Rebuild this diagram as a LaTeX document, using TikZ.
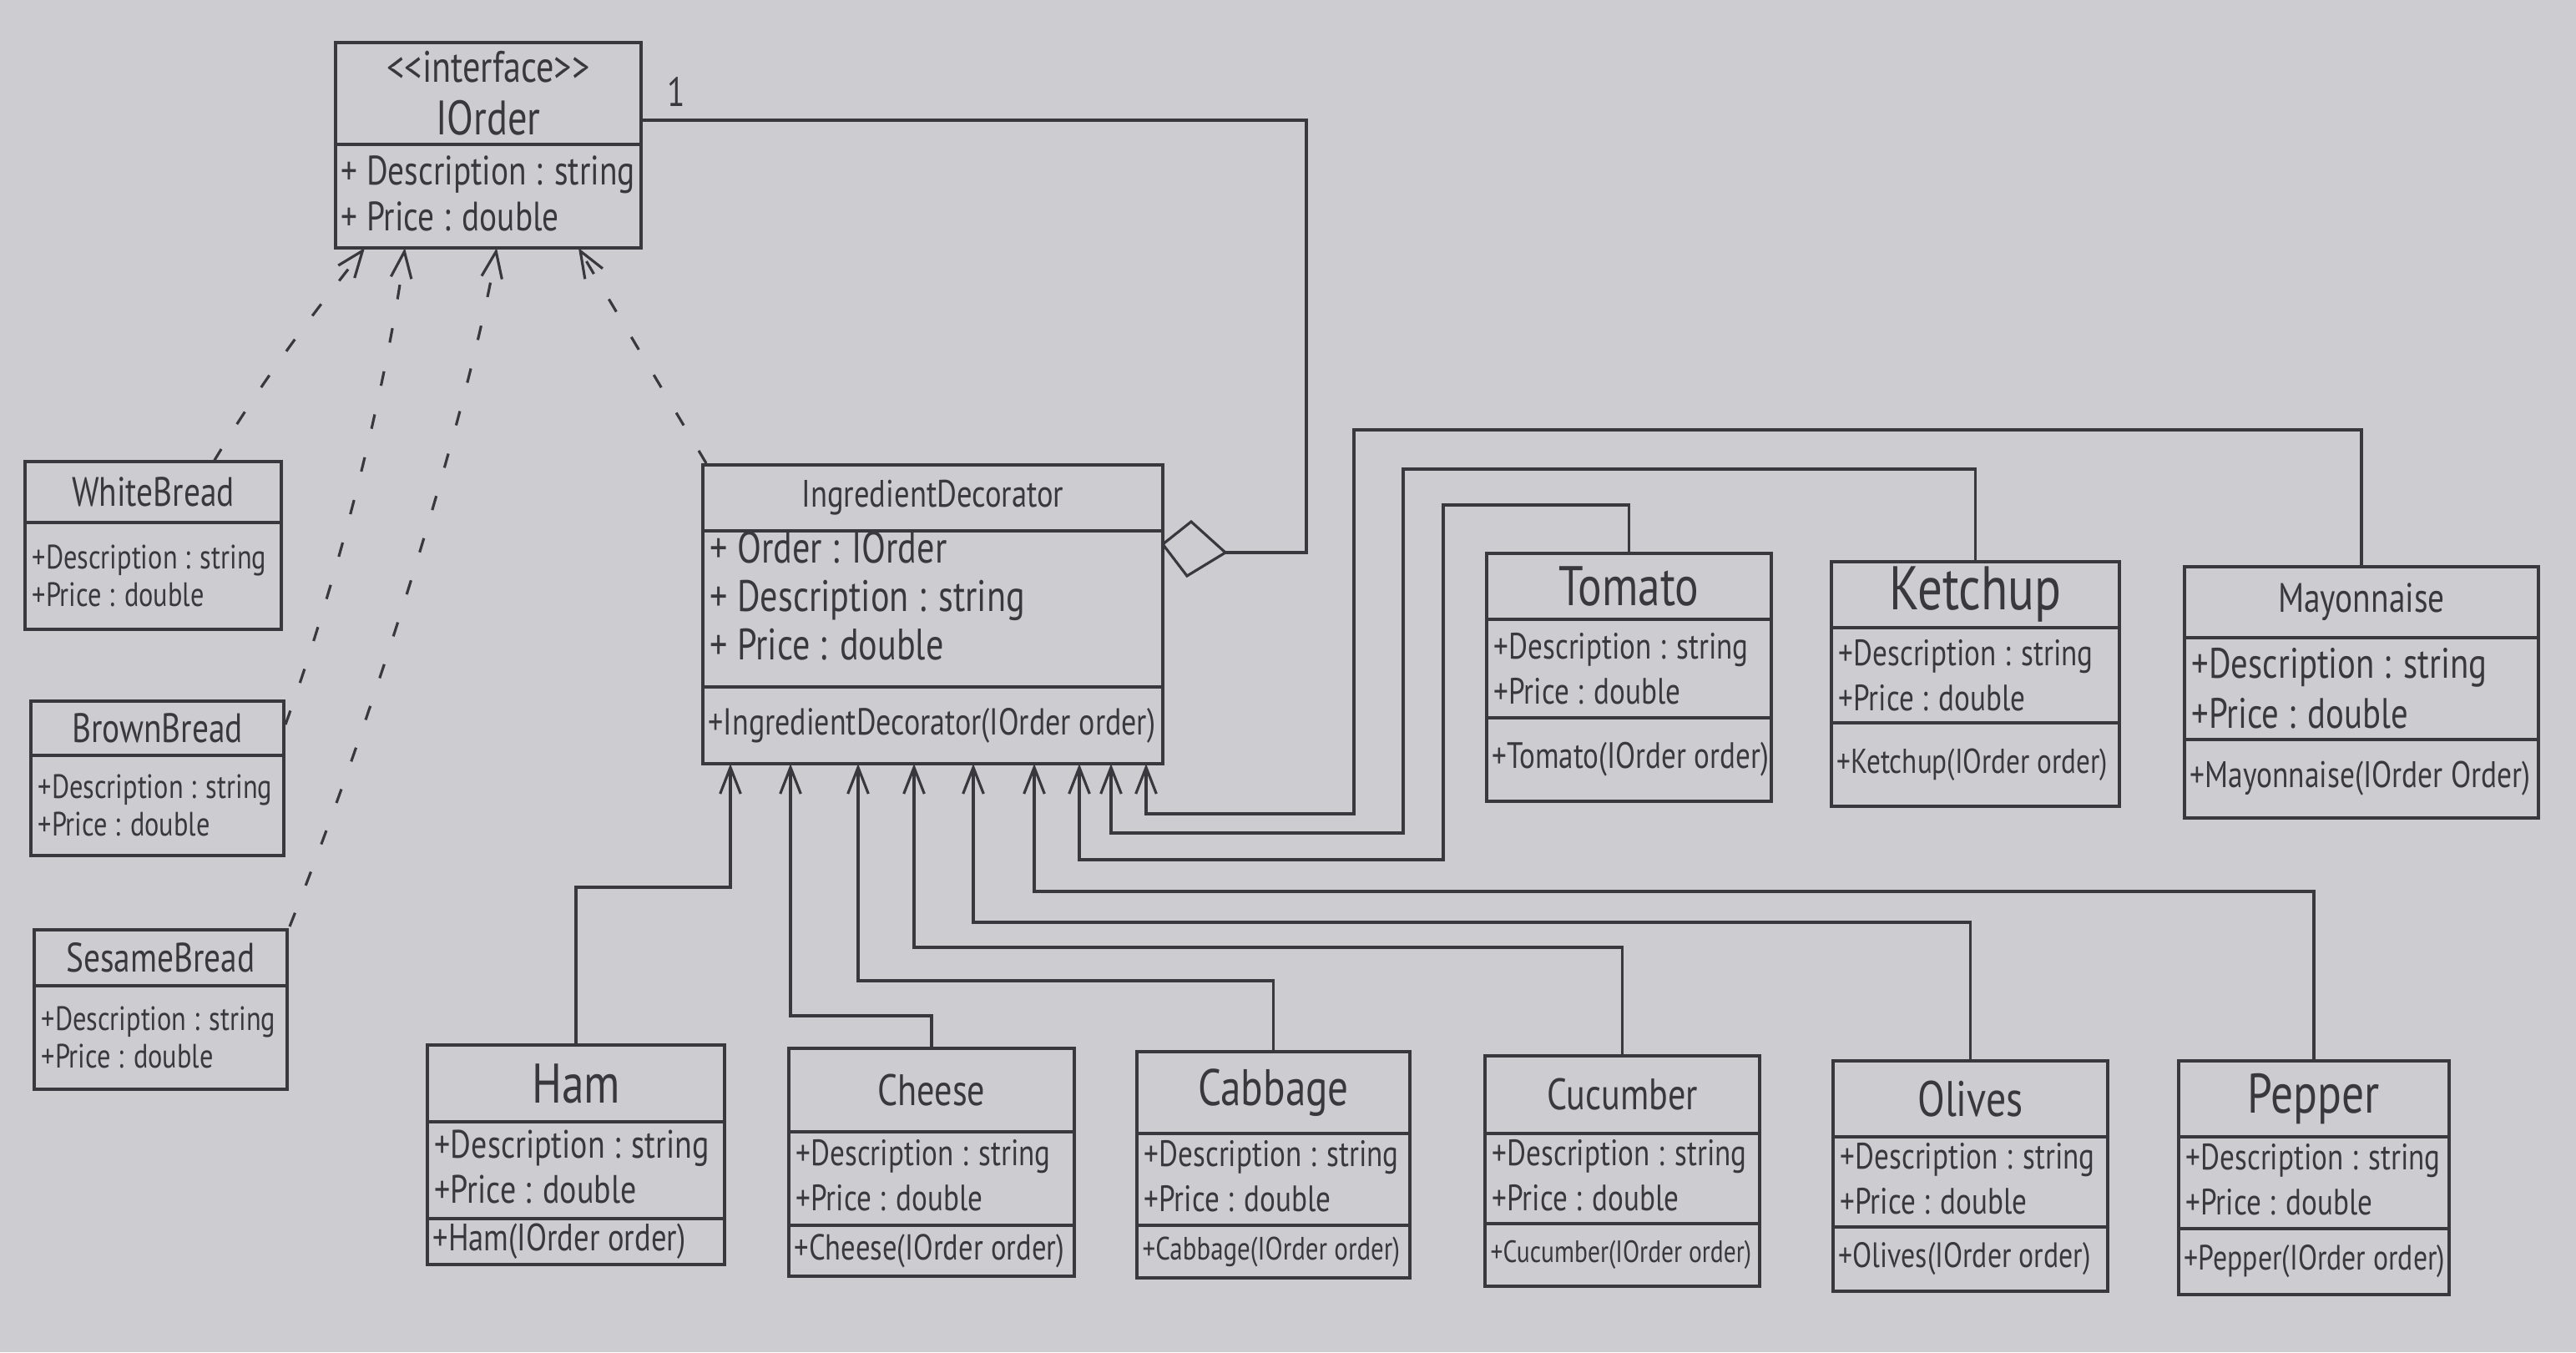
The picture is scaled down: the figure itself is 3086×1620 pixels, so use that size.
\documentclass[tikz,border=0pt]{standalone}
\usepackage{fontspec}
\setmainfont[FakeStretch=0.8]{PT Sans}
\usetikzlibrary{arrows.meta,calc}
\definecolor{paper}{RGB}{204,204,209}
\definecolor{pencil}{RGB}{56,56,62}
\newcommand\fs[1]{\fontsize{#1}{#1}\selectfont}
\newcommand\umlcls[8]{%
  \pgfmathsetmacro\bw{(#4-#2)*0.01}%
  \pgfmathsetmacro\bh{(#5-#3)*0.01}%
  \node[clsbox,minimum width=\bw cm,minimum height=\bh cm] (#1) at (#2,#3) {};%
  \draw[ln] (#2,#6) -- (#4,#6);%
  \node[ttl] (#1-t) at ({(#2+#4)/2},{(#3+#6)/2}) {#8};%
  \ifx\relax#7\relax\else\draw[ln] (#2,#7) -- (#4,#7);\fi
}
% optional style, name, x1, d1, d2, y2, attrs, method
\newcommand\umlbody[8][]{%
  \node[attr,#1] (#2-a) at ({#3+8},{(#4+#5)/2}) {#7};%
  \ifx\relax#8\relax\else\node[meth] (#2-m) at ({#3+6},{(#5+#6)/2}) {#8};\fi
}
\begin{document}
\begin{tikzpicture}[x=0.01cm,y=-0.01cm,
  ln/.style={draw=pencil,line width=0.9pt},
  clsbox/.style={draw=pencil,line width=0.9pt,anchor=north west,inner sep=0pt,outer sep=0pt},
  ttl/.style={text=pencil,inner sep=0pt,align=center,font=\fontsize{16}{18}\selectfont},
  attr/.style={text=pencil,inner sep=0pt,anchor=west,align=left,font=\fontsize{12.5}{15.5}\selectfont},
  meth/.style={text=pencil,inner sep=0pt,anchor=west,font=\fontsize{12}{14}\selectfont},
  low/.style={yshift=0.04cm},
  gen/.style={draw=pencil,line width=0.9pt,-{Straight Barb[length=9pt,width=7pt]}},
  real/.style={gen,dash pattern=on 5pt off 10pt},
]
\fill[paper] (0,0) rectangle (3086,1620);
\useasboundingbox (0,0) rectangle (3086,1620);

% ---------- IOrder ----------
\umlcls{iorder}{402}{51}{768}{297}{173}{}{{\fontsize{15}{22}\selectfont{<}{<}interface{>}{>}}\\{\fontsize{16.5}{18}\selectfont IOrder}}
\node[attr,font=\fontsize{14}{15.5}\selectfont] (iorder-a) at (408,232) {+ Description : string\\+ Price : double};
\node[text=pencil,font=\fontsize{14}{15}\selectfont] (one) at (810,110) {1};

% ---------- Breads ----------
\umlcls{wb}{30}{553}{337}{754}{626}{}{\fs{14}WhiteBread}
\umlbody[font=\fontsize{11.5}{13}\selectfont]{wb}{30}{626}{754}{754}{+Description : string\\+Price : double}{}
\umlcls{bb}{37}{840}{340}{1025}{905}{}{\fs{14}BrownBread}
\umlbody[font=\fontsize{11.5}{13}\selectfont]{bb}{37}{905}{1025}{1025}{+Description : string\\+Price : double}{}
\umlcls{sb}{41}{1114}{344}{1305}{1181}{}{\fs{14}SesameBread}
\umlbody[font=\fontsize{11.5}{13}\selectfont]{sb}{41}{1181}{1305}{1305}{+Description : string\\+Price : double}{}

% ---------- IngredientDecorator ----------
\umlcls{dec}{842}{557}{1393}{915}{636}{823}{\fs{13}IngredientDecorator}
\node[attr,font=\fontsize{15}{16.5}\selectfont] (dec-a) at (850,714) {+ Order : IOrder\\+ Description : string\\+ Price : double};
\node[meth,font=\fontsize{12.8}{14}\selectfont] (dec-m) at (848,869) {+IngredientDecorator(IOrder order)};

% ---------- Top right ingredients ----------
\umlcls{tom}{1781}{663}{2122}{960}{742}{860}{\fs{19}Tomato}
\umlbody{tom}{1781}{742}{860}{960}{+Description : string\\+Price : double}{\fs{12.5}+Tomato(IOrder order)}
\umlcls{ket}{2194}{673}{2539}{966}{752}{866}{\fs{21}Ketchup}
\umlbody{ket}{2194}{752}{866}{966}{+Description : string\\+Price : double}{\fs{11.8}+Ketchup(IOrder order)}
\umlcls{may}{2617}{679}{3041}{980}{764}{886}{\fs{14}Mayonnaise}
\umlbody[font=\fontsize{14.5}{17}\selectfont]{may}{2617}{764}{886}{980}{+Description : string\\+Price : double}{\fs{12.6}+Mayonnaise(IOrder Order)}

% ---------- Bottom ingredients ----------
\umlcls{ham}{512}{1252}{868}{1515}{1344}{1460}{\fs{19}Ham}
\umlbody[low,font=\fontsize{13.5}{15.5}\selectfont]{ham}{512}{1344}{1460}{1515}{+Description : string\\+Price : double}{\fs{13}+Ham(IOrder order)}
\umlcls{che}{945}{1256}{1287}{1529}{1356}{1468}{\fs{15}Cheese}
\umlbody[low]{che}{945}{1356}{1468}{1529}{+Description : string\\+Price : double}{\fs{12.3}+Cheese(IOrder order)}
\umlcls{cab}{1362}{1260}{1689}{1531}{1358}{1468}{\fs{17.5}Cabbage}
\umlbody[low]{cab}{1362}{1358}{1468}{1531}{+Description : string\\+Price : double}{\fs{11}+Cabbage(IOrder order)}
\umlcls{cuc}{1779}{1265}{2108}{1541}{1358}{1466}{\fs{15}Cucumber}
\umlbody[low]{cuc}{1779}{1358}{1466}{1541}{+Description : string\\+Price : double}{\fs{10.5}+Cucumber(IOrder order)}
\umlcls{oli}{2196}{1271}{2525}{1547}{1362}{1470}{\fs{17}Olives}
\umlbody[low]{oli}{2196}{1362}{1470}{1547}{+Description : string\\+Price : double}{\fs{12}+Olives(IOrder order)}
\umlcls{pep}{2610}{1271}{2934}{1551}{1362}{1472}{\fs{19}Pepper}
\umlbody[low]{pep}{2610}{1362}{1472}{1551}{+Description : string\\+Price : double}{\fs{12}+Pepper(IOrder order)}

% ---------- Aggregation (diamond) to IOrder ----------
\coordinate (dl) at ($(dec.north east)+(0,95)$);
\coordinate (dt) at (1427,625);
\coordinate (dr) at (1468,662);
\coordinate (db) at (1422,690);
\draw[ln,fill=paper] (dl) -- (dt) -- (dr) -- (db) -- cycle;
\coordinate (k) at (1565,144);
\draw[ln] (dr) -| (k) -- (k -| iorder.east);

% ---------- Realizations (dashed) ----------
\draw[real] ($(wb.north west)+(226,0)$) .. controls (330,430) and (400,345) .. ($(iorder.south west)+(35,0)$);
\draw[real] ($(bb.north east)+(2,28)$) .. controls (420,650) and (470,420) .. ($(iorder.south west)+(83,0)$);
\draw[real] ($(sb.north east)+(3,-4)$) .. controls (470,800) and (570,450) .. ($(iorder.south west)+(193,0)$);
\draw[real] ($(dec.north west)+(4,-2)$) -- ($(iorder.south west)+(291,0)$);

% ---------- Generalizations to IngredientDecorator ----------
\draw[gen] (ham.north) |- ($(dec.south west)+(33,148)$) -- ($(dec.south west)+(33,0)$);
\draw[gen] (che.north) |- ($(dec.south west)+(105,302)$) -- ($(dec.south west)+(105,0)$);
\draw[gen] (cab.north) |- ($(dec.south west)+(186,260)$) -- ($(dec.south west)+(186,0)$);
\draw[gen] (cuc.north) |- ($(dec.south west)+(253,220)$) -- ($(dec.south west)+(253,0)$);
\draw[gen] (oli.north) |- ($(dec.south west)+(324,190)$) -- ($(dec.south west)+(324,0)$);
\draw[gen] (pep.north) |- ($(dec.south west)+(397,153)$) -- ($(dec.south west)+(397,0)$);
\draw[gen] (tom.north) |- (1729,605) |- ($(dec.south west)+(451,115)$) -- ($(dec.south west)+(451,0)$);
\draw[gen] (ket.north) |- (1681,562) |- ($(dec.south west)+(489,83)$) -- ($(dec.south west)+(489,0)$);
\draw[gen] (may.north) |- (1622,515) |- ($(dec.south west)+(531,60)$) -- ($(dec.south west)+(531,0)$);
\end{tikzpicture}
\end{document}
